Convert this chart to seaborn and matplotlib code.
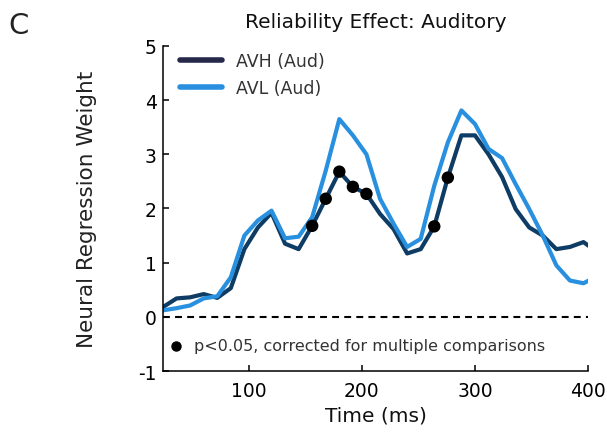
import numpy as np
import pandas as pd
import matplotlib
matplotlib.use("Agg")
import matplotlib.pyplot as plt
from matplotlib.lines import Line2D
import seaborn as sns

# Time axis (ms), sampled every 12 ms
time_ms = [24, 36, 48, 60, 72, 84, 96, 108, 120, 132, 144, 156, 168, 180, 192,
           204, 216, 228, 240, 252, 264, 276, 288, 300, 312, 324, 336, 348, 360,
           372, 384, 396, 408]

# Neural regression weights for each auditory reliability condition
avh_aud = [0.18, 0.34, 0.36, 0.42, 0.35, 0.53, 1.25, 1.65, 1.92, 1.35, 1.25,
           1.68, 2.18, 2.68, 2.40, 2.27, 1.90, 1.62, 1.17, 1.25, 1.67, 2.57,
           3.35, 3.35, 3.00, 2.58, 1.99, 1.65, 1.50, 1.25, 1.29, 1.38, 1.20]
avl_aud = [0.12, 0.16, 0.21, 0.34, 0.38, 0.73, 1.50, 1.78, 1.96, 1.45, 1.48,
           1.84, 2.70, 3.65, 3.35, 3.00, 2.18, 1.72, 1.29, 1.44, 2.42, 3.22,
           3.81, 3.56, 3.10, 2.93, 2.45, 1.99, 1.50, 0.95, 0.67, 0.62, 0.75]

# Time points where the reliability effect is significant
sig_times = [156, 168, 180, 192, 204, 264, 276]

series_names = ["AVH (Aud)", "AVL (Aud)"]
line_colors = ["#0e3c64", "#2890de"]
legend_colors = ["#252848", "#2890de"]

df = pd.DataFrame({
    "time": time_ms * 2,
    "weight": avh_aud + avl_aud,
    "condition": [series_names[0]] * len(time_ms) + [series_names[1]] * len(time_ms),
})
sig_df = df[(df["condition"] == series_names[0]) & (df["time"].isin(sig_times))]

sns.set_style("white")
plt.rcParams["font.family"] = ["DejaVu Sans"]
plt.rcParams["axes.unicode_minus"] = False

fig = plt.figure(figsize=(6.07, 4.35), dpi=100)
ax = fig.add_axes([0.2685, 0.1448, 0.7002, 0.7472])

ax.axhline(0, color="black", lw=1.5, ls=(0, (3.3, 2.5)), zorder=1)

sns.lineplot(data=df, x="time", y="weight", hue="condition",
             hue_order=series_names, palette=line_colors, linewidth=3.0,
             legend=False, ax=ax, zorder=2)
sns.scatterplot(data=sig_df, x="time", y="weight", color="black", s=80,
                edgecolor="none", ax=ax, zorder=3, legend=False)

ax.set_xlim(24, 400)
ax.set_ylim(-1, 5)
ax.set_xticks([100, 200, 300, 400])
ax.set_yticks([-1, 0, 1, 2, 3, 4, 5])
ax.tick_params(direction="in", length=4.5, width=1.1, color="black",
               labelsize=13.5, labelcolor="black", bottom=True, left=True)
ax.tick_params(axis="y", pad=4.5)
ax.tick_params(axis="x", pad=7)
for side in ["top", "right"]:
    ax.spines[side].set_visible(False)
for side in ["left", "bottom"]:
    ax.spines[side].set_color("black")
    ax.spines[side].set_linewidth(1.1)

ax.set_xlabel("Time (ms)", fontsize=14.5, color="#111111")
ax.set_ylabel("Neural Regression Weight", fontsize=15.5, color="#222222")
ax.xaxis.set_label_coords(0.5, -0.105)
ax.yaxis.set_label_coords(-0.155, 0.5)
ax.set_title("Reliability Effect: Auditory", fontsize=14.5, color="#111111", pad=14)

handles = [Line2D([0], [0], color=c, lw=4) for c in legend_colors]
ax.legend(handles, series_names, loc="upper left", bbox_to_anchor=(0.04, 0.982),
          frameon=False, fontsize=12.5, handlelength=2.4, handletextpad=0.8,
          labelspacing=0.55, borderpad=0, borderaxespad=0, labelcolor="#333333")

ax.plot([0.03], [0.077], "o", color="black", markersize=6.5,
        transform=ax.transAxes, clip_on=False)
ax.text(0.072, 0.077, "p<0.05, corrected for multiple comparisons",
        transform=ax.transAxes, fontsize=11.5, color="#333333", va="center")

fig.text(0.013, 0.94, "C", fontsize=21, color="#222222", va="center")

fig.savefig("out.png", dpi=100)
